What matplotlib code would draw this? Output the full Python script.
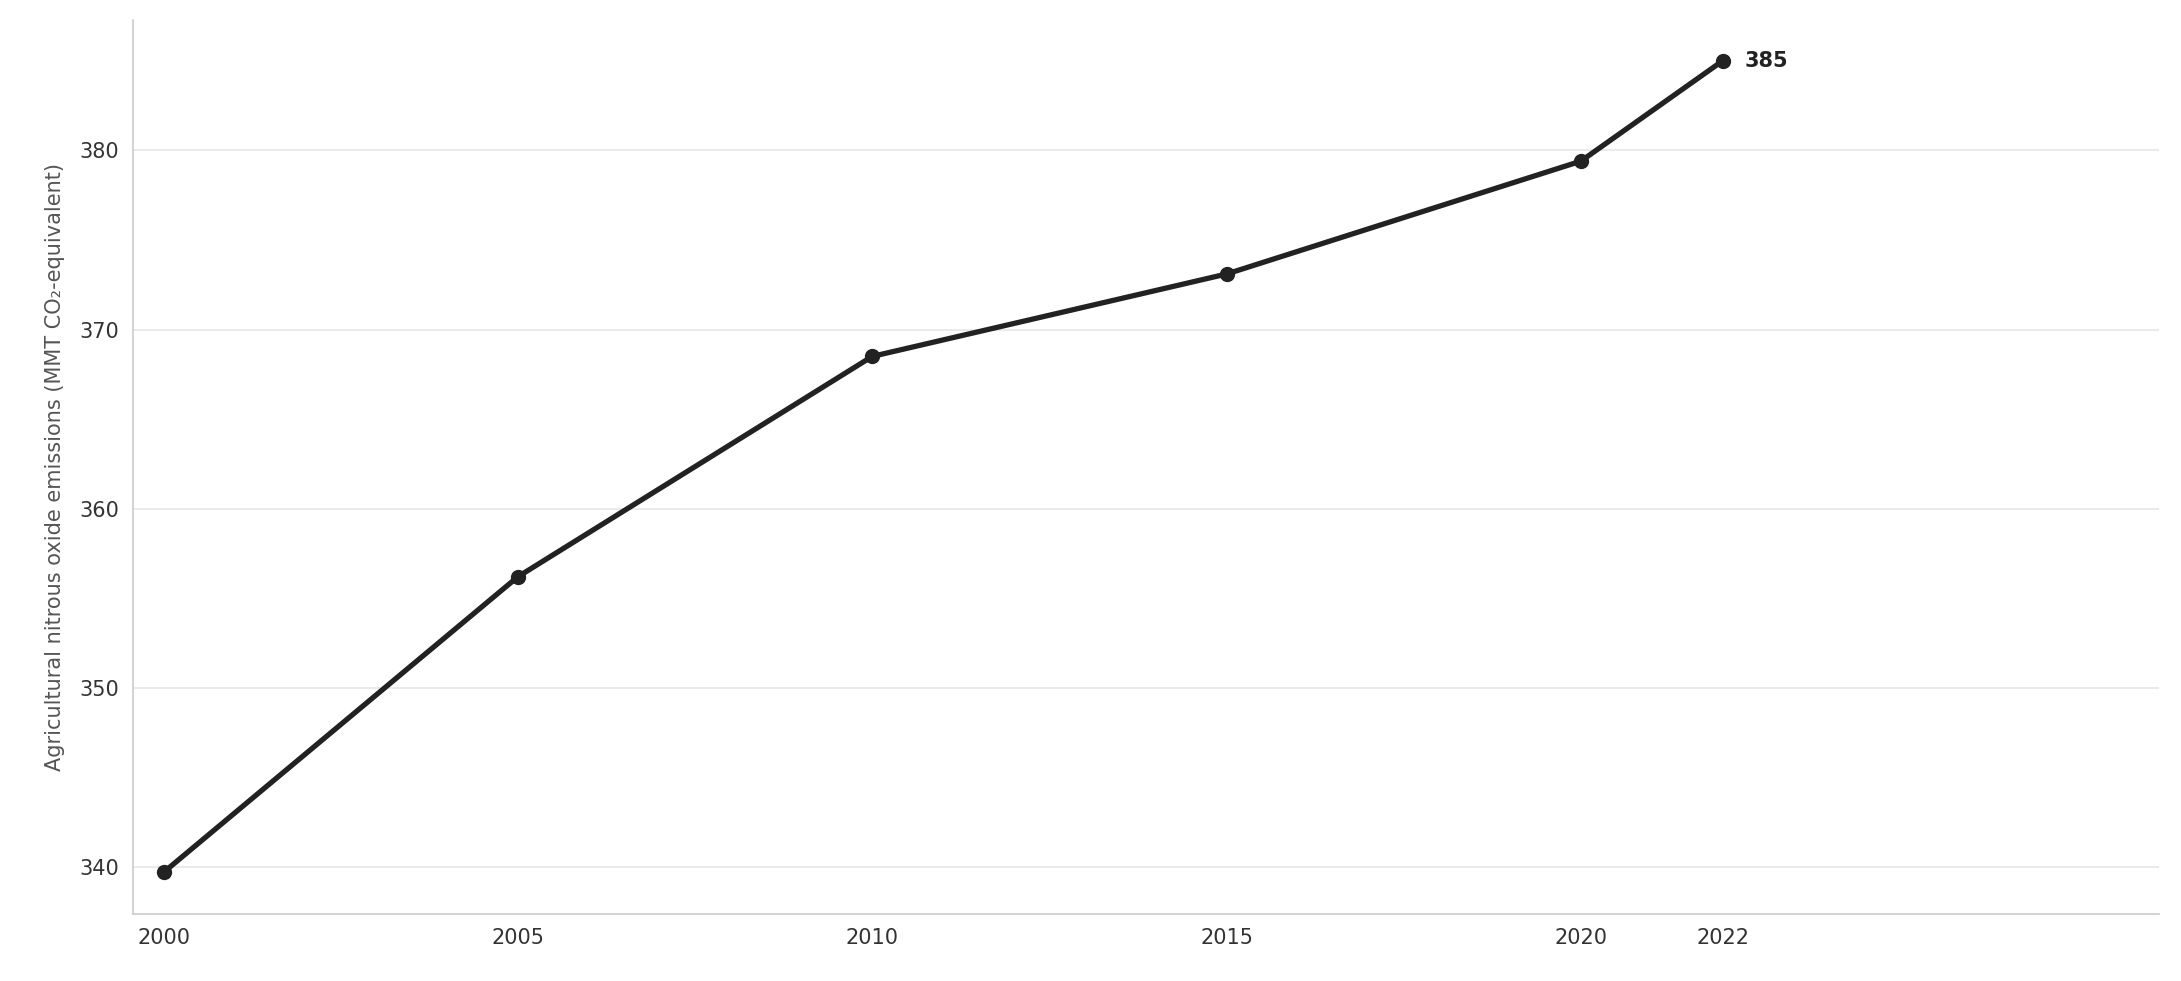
import matplotlib
matplotlib.use("Agg")
import matplotlib.pyplot as plt

years = [2000, 2005, 2010, 2015, 2020, 2022]
values = [339.7, 356.2, 368.5, 373.1, 379.4, 385.0]
xticks = [2000, 2005, 2010, 2015, 2020, 2022]
yticks = [340, 350, 360, 370, 380]

fig = plt.figure(figsize=(21.81, 9.81), dpi=100)
ax = fig.add_axes([0.061, 0.068, 0.929, 0.912])
ax.plot(years, values, color="#222222", lw=3.8, marker="o", ms=10, zorder=3)
ax.annotate(f"{values[-1]:.0f}", (years[-1], values[-1]), xytext=(16, 0),
            textcoords="offset points", va="center", ha="left",
            fontsize=15, fontweight="bold", color="#222222")
ax.set_xlim(1999.57, 2028.16)
ax.set_ylim(337.36, 387.3)
ax.set_xticks(xticks)
ax.set_yticks(yticks)
ax.tick_params(length=0, labelsize=15, colors="#333333", pad=10)
ax.grid(axis="y", color="#e6e6e6", lw=1.2)
ax.set_axisbelow(True)
for s in ["top", "right"]:
    ax.spines[s].set_visible(False)
for s in ["left", "bottom"]:
    ax.spines[s].set_color("#cccccc")
    ax.spines[s].set_linewidth(1.2)
ax.set_ylabel("Agricultural nitrous oxide emissions (MMT CO₂-equivalent)",
              fontsize=15, color="#555555", labelpad=10)
fig.savefig("out.png", dpi=100)
